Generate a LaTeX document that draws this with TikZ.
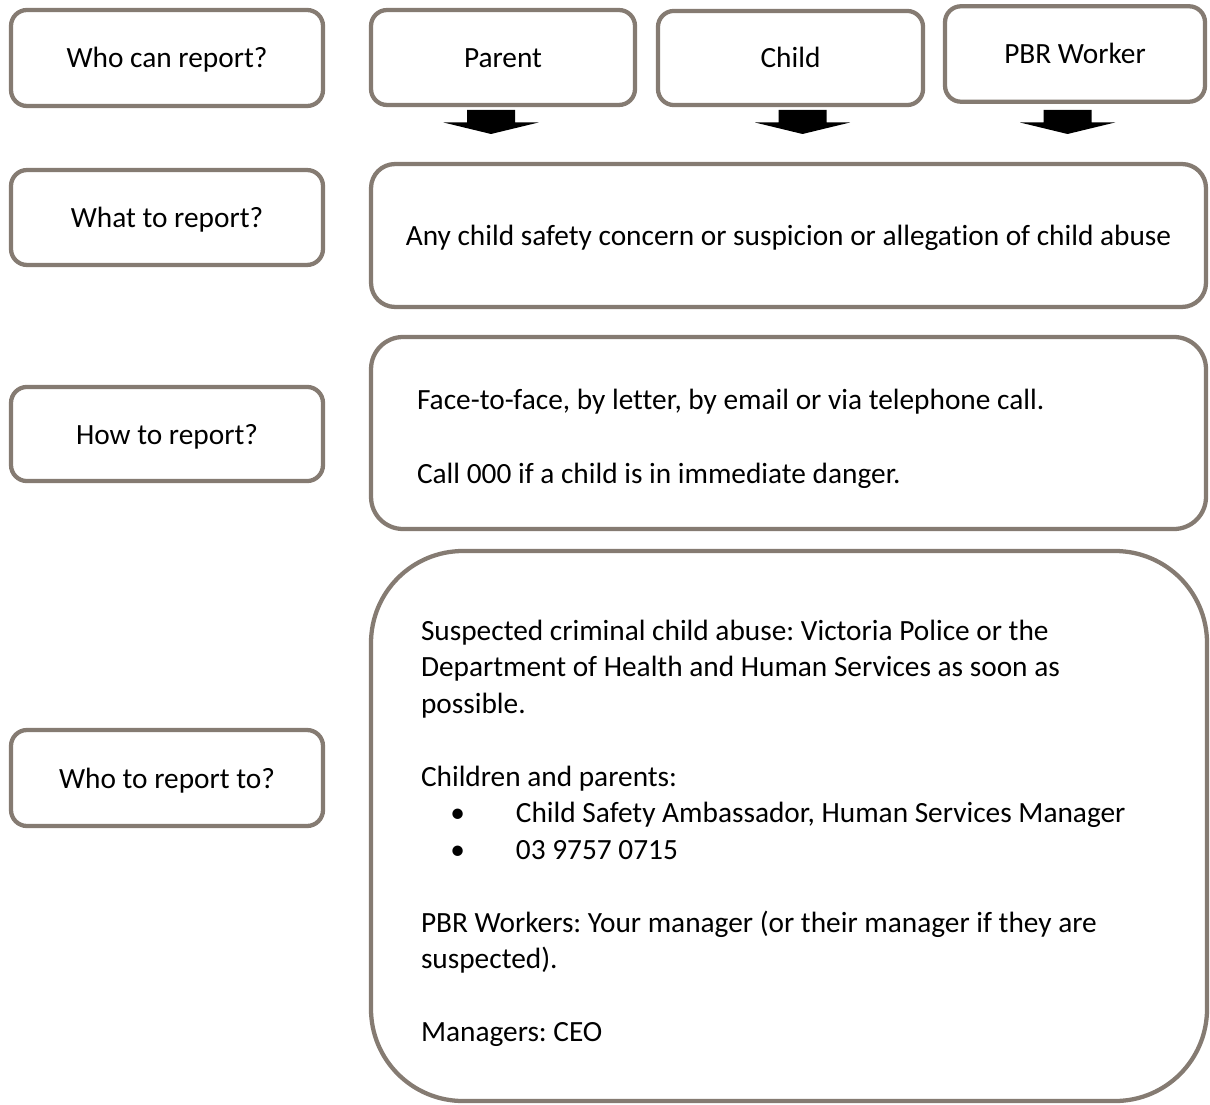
\documentclass[tikz,border=0pt]{standalone}
\usepackage{fontspec}
\setmainfont{Carlito}[Ligatures=NoCommon]
\definecolor{boxline}{RGB}{133,123,114}
\tikzset{
  box/.style={draw=boxline, line width=1.6pt, fill=white, rounded corners=#1, align=center, inner sep=0pt, font=\fontsize{11}{13.7}\selectfont\frenchspacing},
  box/.default=6pt,
  oneline/.style={text height=9.7pt, text depth=2.2pt},
  blockarrow/.pic={\fill (-24,0) -- (24,0) -- (24,12.5) -- (47.5,12.5) -- (0,24) -- (-47.5,12.5) -- (-24,12.5) -- cycle;}
}
\newcommand{\itembullet}{\hspace*{11pt}\makebox[24.6pt][l]{\textbullet}}
\begin{document}
\begin{tikzpicture}[x=0.375pt, y=-0.375pt]
\useasboundingbox (0,0) rectangle (1210,1104);
\node[box, oneline, minimum width=117pt, minimum height=36pt] (whocan) at (167,58) {Who can report?};
\node[box, oneline, minimum width=117pt, minimum height=35.6pt] (what) at (167,217.5) {What to report?};
\node[box, oneline, minimum width=117pt, minimum height=35.3pt] (how) at (167,434) {How to report?};
\node[box, oneline, minimum width=117pt, minimum height=36pt] (whoto) at (167,778) {Who to report to?};
\node[box, oneline, minimum width=99pt, minimum height=35.6pt] (parent) at (503,57.5) {Parent};
\node[box, oneline, minimum width=99.4pt, minimum height=35.3pt] (child) at (790.5,58) {Child};
\node[box, oneline, minimum width=97.5pt, minimum height=35.8pt] (worker) at (1075,54) {PBR Worker};
\pic (parentarrow) at (491,110) {blockarrow};
\pic (childarrow) at (802.5,110) {blockarrow};
\pic (workerarrow) at (1067.5,110) {blockarrow};
\node[box=9pt, oneline, minimum width=313.1pt, minimum height=53.6pt] (concern) at (788.5,235.5)
  {Any child safety concern or suspicion or allegation of child abuse};
\node[box=12pt, minimum height=72pt, text width=278.6pt, align=flush left, inner xsep=17.25pt] (means) at (788.5,433)
  {\rule{0pt}{12pt}Face-to-face, by letter, by email or via telephone call.\\[13.7pt]
   Call 000 if a child is in immediate danger.};
\node[box=34.5pt, minimum height=206.25pt, text width=276pt, align=flush left, inner xsep=18.75pt] (contacts) at (789,826)
  {\rule{0pt}{13pt}Suspected criminal child abuse: Victoria Police or the\\
   Department of Health and Human Services as soon as\\
   possible.\\[13.6pt]
   Children and parents:\\
   \itembullet Child Safety Ambassador, Human Services Manager\\
   \itembullet 03 9757 0715\\[13.6pt]
   PBR Workers: Your manager (or their manager if they are\\
   suspected).\\[13.6pt]
   Managers: CEO};
\end{tikzpicture}
\end{document}
